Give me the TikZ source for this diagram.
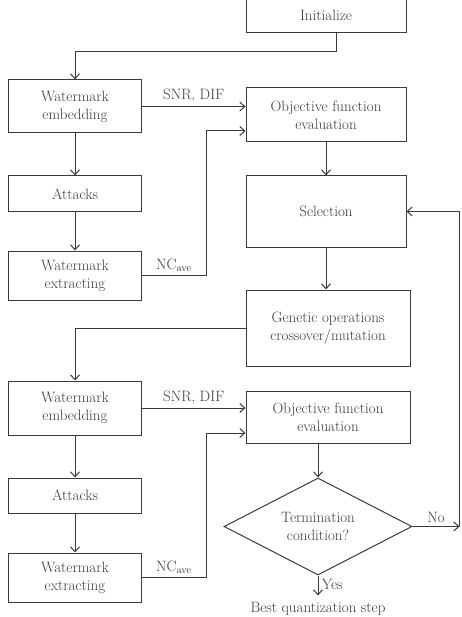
\documentclass[tikz,border=0pt]{standalone}
\usepackage{tikz}
\usetikzlibrary{arrows.meta, shapes.geometric, calc}
\definecolor{flowgray}{HTML}{3A3A3A}

\begin{document}
\begin{tikzpicture}[x=1pt, y=-1pt,
    every node/.style={font=\fontsize{15}{18}\selectfont, text=flowgray},
    box/.style={draw=flowgray, line width=1pt, align=center, inner sep=0pt},
    leftbox/.style={box, minimum width=133pt},
    rightbox/.style={box, minimum width=160pt},
    decision/.style={draw=flowgray, line width=1pt, diamond, aspect=2,
      align=center, inner sep=0pt, minimum width=188pt, minimum height=97pt},
    flow/.style={draw=flowgray, line width=1pt,
      -{Straight Barb[length=5pt, width=9pt]}}]
  \useasboundingbox (0,0) rectangle (461,617);

  % left column, first pass
  \node[leftbox, minimum height=53pt] (emb1) at (75,106.5) {Watermark\\embedding};
  \node[leftbox, minimum height=36pt] (att1) at (75,194) {Attacks};
  \node[leftbox, minimum height=49pt] (ext1) at (75,275.5) {Watermark\\extracting};

  % left column, second pass
  \node[leftbox, minimum height=54pt] (emb2) at (75,408) {Watermark\\embedding};
  \node[leftbox, minimum height=35pt] (att2) at (75,495.5) {Attacks};
  \node[leftbox, minimum height=49pt] (ext2) at (75,577.5) {Watermark\\extracting};

  % right column
  \node[rightbox, minimum height=36pt] (init) at (326,15) {Initialize};
  \node[rightbox, minimum height=54pt] (obj1) at (326,115) {Objective function\\evaluation};
  \node[rightbox, minimum height=71pt] (sel) at (326,211.5) {Selection};
  \node[box, minimum width=164pt, minimum height=76pt] (gen) at (328,328)
    {Genetic operations\\crossover/mutation};
  \node[box, minimum width=164pt, minimum height=52pt] (obj2) at (328,417)
    {Objective function\\evaluation};
  \node[decision] (term) at (318,526.5) {Termination\\condition?};
  \node[inner sep=0pt] (best) at (318,609) {Best quantization step};

  % connectors
  \draw[flow] ([xshift=10pt]init.south) -- ++(0,18) -| (emb1.north);
  \draw[flow] (emb1.east) -- node[above] {SNR, DIF} (emb1.east -| obj1.west);
  \draw[flow] (emb1) -- (att1);
  \draw[flow] (att1) -- (ext1);
  \draw[flow] (ext1.east) -- node[above] {NC\textsubscript{ave}} ++(64,0)
    |- ([yshift=-16pt]obj1.west);
  \draw[flow] (obj1) -- (sel);
  \draw[flow] (sel.south) -- (sel.south |- gen.north);
  \draw[flow] (gen.west) -| (emb2.north);
  \draw[flow] (emb2.east) -- node[above] {SNR, DIF} (emb2.east -| obj2.west);
  \draw[flow] (emb2) -- (att2);
  \draw[flow] (att2) -- (ext2);
  \draw[flow] (ext2.east) -- node[above] {NC\textsubscript{ave}} ++(64,0)
    |- ([yshift=-16pt]obj2.west);
  \draw[flow] (term.north |- obj2.south) -- (term.north);
  \draw[flow] (term.east) -- node[above] {No} ++(47,0) coordinate (back);
  \draw[flow] (back) |- (sel.east);
  \draw[flow] (term.south) -- node[right, pos=0.45] {Yes} ++(0,20);
\end{tikzpicture}
\end{document}
